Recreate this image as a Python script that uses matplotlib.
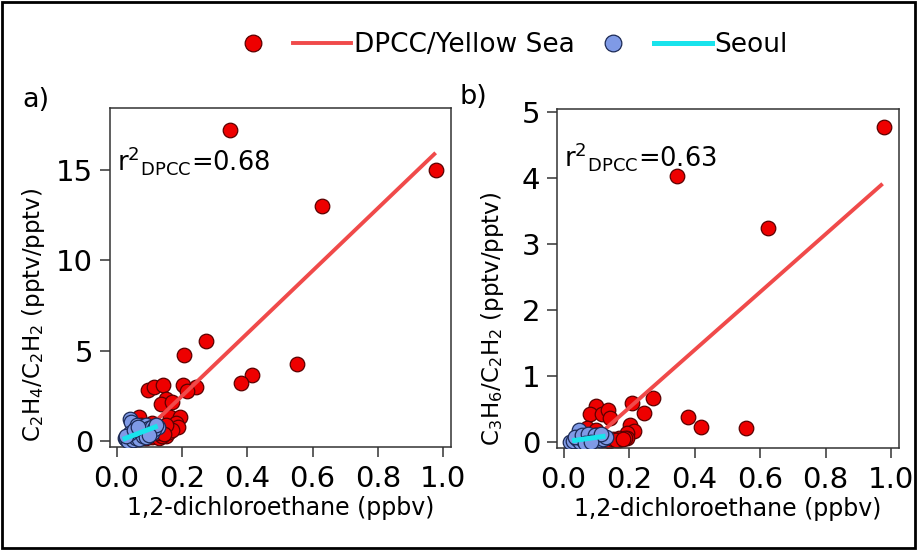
"""Scatter of alkene ratios vs 1,2-dichloroethane, DPCC/Yellow Sea vs Seoul."""

import numpy as np
import matplotlib.pyplot as plt
from matplotlib.lines import Line2D
from matplotlib.patches import Rectangle

plt.rcParams['font.family'] = ['DejaVu Sans']
plt.rcParams['mathtext.fontset'] = 'dejavusans'

RED = '#ee0000'
RED_EDGE = '#5a0000'
BLUE = '#7f9ae6'
BLUE_EDGE = '#1c2a55'
RED_LINE = '#f04a4a'
CYAN_LINE = '#19e3ec'

# panel a) C2H4/C2H2
a_dpcc_x = [0.346, 0.979, 0.628, 0.551, 0.416, 0.382, 0.273, 0.208, 0.203, 0.244,
            0.216, 0.096, 0.116, 0.142, 0.152, 0.137, 0.171, 0.165, 0.193, 0.181,
            0.188, 0.070, 0.076, 0.080, 0.100, 0.120, 0.130, 0.140, 0.150, 0.160,
            0.110, 0.090, 0.130, 0.060, 0.050, 0.100, 0.120, 0.140, 0.170, 0.150,
            0.110, 0.105, 0.125, 0.145]
a_dpcc_y = [17.2, 15.0, 13.0, 4.26, 3.65, 3.23, 5.5, 4.76, 3.1, 3.0,
            2.77, 2.82, 3.0, 3.1, 2.3, 2.05, 2.18, 1.31, 1.35, 1.01,
            0.79, 1.31, 0.89, 0.5, 0.4, 0.3, 0.5, 0.6, 0.3, 0.5,
            0.2, 0.15, 0.15, 0.2, 0.1, 0.7, 0.8, 0.25, 0.6, 0.9,
            1.0, 0.55, 0.45, 0.4]
a_seoul_x = [0.040, 0.045, 0.064, 0.090, 0.025, 0.045, 0.127, 0.110, 0.030, 0.040,
             0.050, 0.060, 0.070, 0.080, 0.090, 0.100, 0.110, 0.115, 0.120, 0.035,
             0.050, 0.060, 0.070, 0.080, 0.090, 0.040, 0.100, 0.030, 0.055, 0.065]
a_seoul_y = [1.2, 1.05, 0.9, 0.9, 0.17, 0.0, 0.8, 0.43, 0.1, 0.2,
             0.3, 0.4, 0.5, 0.6, 0.55, 0.7, 0.8, 0.65, 0.9, 0.0,
             0.05, 0.15, 0.1, 0.3, 0.2, 0.45, 0.35, 0.3, 0.6, 0.75]

# panel b) C3H6/C2H2
b_dpcc_x = [0.977, 0.345, 0.625, 0.274, 0.209, 0.244, 0.380, 0.418, 0.557, 0.098,
            0.082, 0.118, 0.137, 0.143, 0.204, 0.216, 0.194, 0.194, 0.169, 0.072,
            0.098, 0.148, 0.168, 0.189, 0.120, 0.130, 0.140, 0.150, 0.160, 0.180,
            0.100, 0.110, 0.080, 0.060]
b_dpcc_y = [4.78, 4.03, 3.25, 0.67, 0.59, 0.44, 0.38, 0.23, 0.21, 0.55,
            0.42, 0.42, 0.48, 0.36, 0.26, 0.17, 0.13, 0.06, 0.06, 0.21,
            0.18, 0.03, 0.03, 0.06, 0.03, 0.05, 0.02, 0.04, 0.03, 0.05,
            0.10, 0.05, 0.08, 0.05]
b_seoul_x = [0.047, 0.021, 0.030, 0.040, 0.050, 0.060, 0.070, 0.080, 0.090, 0.100,
             0.110, 0.120, 0.130, 0.035, 0.055, 0.075, 0.095, 0.115, 0.065, 0.085]
b_seoul_y = [0.19, 0.0, 0.02, 0.05, 0.0, 0.03, 0.06, 0.02, 0.04, 0.07,
             0.03, 0.05, 0.08, 0.08, 0.10, 0.12, 0.10, 0.12, -0.01, 0.0]

# fit lines: slope, intercept, x start, x end
a_dpcc_fit = [17.3, -0.98, 0.05, 0.977]
a_seoul_fit = [6.9, -0.04, 0.019, 0.126]
b_dpcc_fit = [4.39, -0.36, 0.09, 0.974]
b_seoul_fit = [0.69, 0.002, 0.026, 0.128]

a_r2 = 0.68
b_r2 = 0.63


def draw_fit(ax, fit, color, lw, z):
    slope, icpt, x0, x1 = fit
    xs = np.array([x0, x1])
    ax.plot(xs, slope * xs + icpt, color=color, lw=lw, zorder=z,
            solid_capstyle='butt')


def draw_panel(ax, dx, dy, sx, sy, dfit, sfit, r2, ylabel, ylim, yticks, r2_y):
    ax.scatter(dx, dy, s=110, c=RED, edgecolors=RED_EDGE, linewidths=0.9, zorder=2)
    draw_fit(ax, dfit, RED_LINE, 2.8, 3)
    ax.scatter(sx, sy, s=110, c=BLUE, edgecolors=BLUE_EDGE, linewidths=0.9, zorder=4)
    draw_fit(ax, sfit, CYAN_LINE, 3.6, 5)

    ax.set_xlim(-0.02, 1.024)
    ax.set_ylim(*ylim)
    ax.set_xticks([0.0, 0.2, 0.4, 0.6, 0.8, 1.0])
    ax.set_xticklabels(['0.0', '0.2', '0.4', '0.6', '0.8', '1.0'])
    ax.set_yticks(yticks)
    ax.tick_params(direction='out', length=7, width=1.1, labelsize=21,
                   color='#333333')
    ax.tick_params(axis='x', pad=6)
    ax.tick_params(axis='y', pad=5)
    for sp in ax.spines.values():
        sp.set_color('#333333')
        sp.set_linewidth(1.1)

    ax.set_xlabel('1,2-dichloroethane (ppbv)', fontsize=17, labelpad=2)
    ax.set_ylabel(ylabel, fontsize=16.5)
    ax.text(0.02, r2_y, r'$\mathregular{r^{2}{}_{DPCC}}$=%.2f' % r2,
            transform=ax.transAxes, fontsize=18.5, va='center', ha='left')


fig = plt.figure(figsize=(9.18, 5.5), dpi=100)
ax1 = fig.add_axes([0.1198, 0.1873, 0.3715, 0.6164])
ax2 = fig.add_axes([0.6068, 0.1855, 0.3725, 0.6164])

draw_panel(ax1, a_dpcc_x, a_dpcc_y, a_seoul_x, a_seoul_y, a_dpcc_fit, a_seoul_fit,
           a_r2, r'C$_2$H$_4$/C$_2$H$_2$ (pptv/pptv)', (-0.33, 18.4), [0, 5, 10, 15],
           0.845)
draw_panel(ax2, b_dpcc_x, b_dpcc_y, b_seoul_x, b_seoul_y, b_dpcc_fit, b_seoul_fit,
           b_r2, r'C$_3$H$_6$/C$_2$H$_2$ (pptv/pptv)', (-0.09, 5.05), [0, 1, 2, 3, 4, 5],
           0.86)

ax1.yaxis.set_label_coords(-0.185, 0.39)
ax2.yaxis.set_label_coords(-0.149, 0.38)

fig.text(0.024, 0.818, 'a)', fontsize=19.5, va='center')
fig.text(0.501, 0.823, 'b)', fontsize=19.5, va='center')

handles = [
    Line2D([], [], ls='none', marker='o', ms=12, mfc=RED, mec=RED_EDGE, mew=0.9),
    Line2D([], [], color=RED_LINE, lw=2.8),
    Line2D([], [], ls='none', marker='o', ms=12, mfc=BLUE, mec=BLUE_EDGE, mew=0.9),
    Line2D([], [], color=CYAN_LINE, lw=3.6),
]
fig.legend(handles, ['', 'DPCC/Yellow Sea', '', 'Seoul'], ncol=4, frameon=False,
           loc='center', bbox_to_anchor=(0.551, 0.918), fontsize=19,
           handlelength=2.2, handletextpad=0.1, columnspacing=0.35)

fig.patches.append(Rectangle((0.002, 0.003), 0.995, 0.993, transform=fig.transFigure,
                             fill=False, ec='black', lw=2))

fig.savefig('out.png', dpi=100)
